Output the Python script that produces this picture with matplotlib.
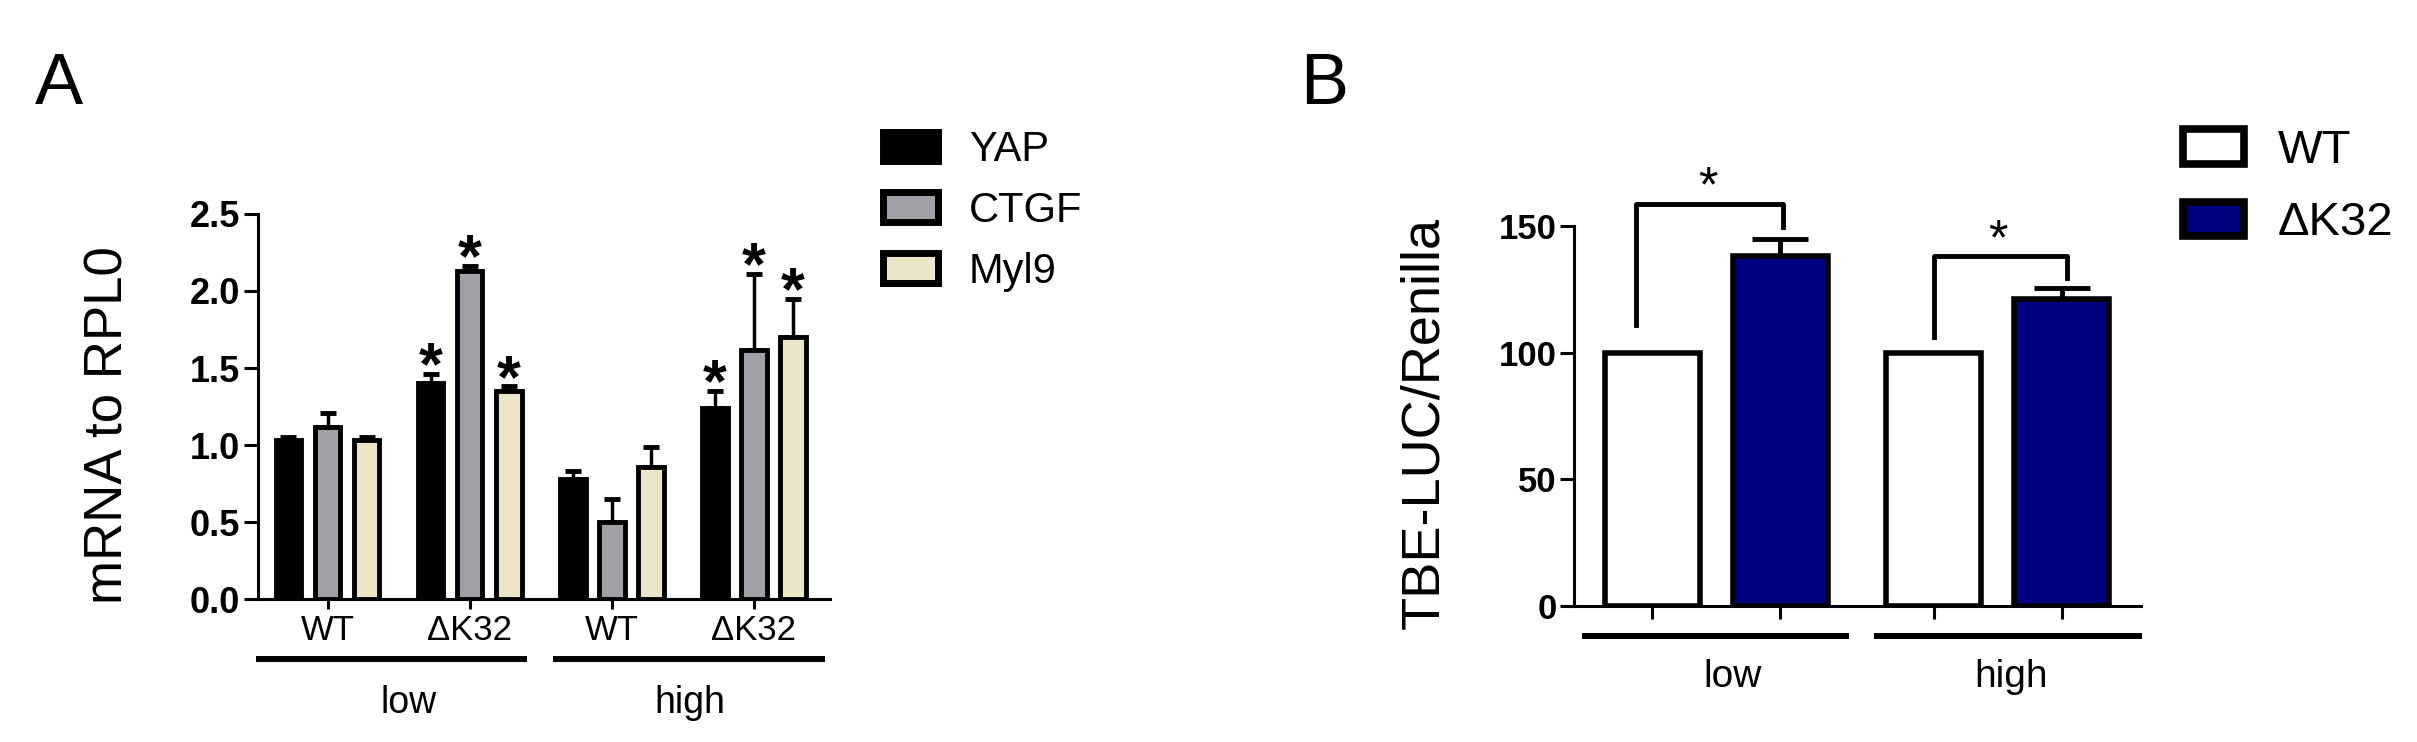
import numpy as np
import matplotlib.pyplot as plt
from matplotlib.patches import Patch

plt.rcParams['font.family'] = ['Liberation Sans', 'DejaVu Sans']

# panel A: mRNA relative to RPL0
genes = ['YAP', 'CTGF', 'Myl9']
groups_a = ['WT', 'ΔK32', 'WT', 'ΔK32']
levels = ['low', 'high']
yap = [1.03, 1.40, 0.78, 1.24]
yap_err = [0.02, 0.06, 0.05, 0.11]
ctgf = [1.12, 2.13, 0.50, 1.62]
ctgf_err = [0.09, 0.03, 0.15, 0.49]
myl9 = [1.03, 1.35, 0.86, 1.70]
myl9_err = [0.02, 0.03, 0.13, 0.25]
sig_a = [[0, 1, 0, 1], [0, 1, 0, 1], [0, 1, 0, 1]]

# panel B: TBE-LUC reporter
genotypes = ['WT', 'ΔK32']
tbe_wt = [100, 100]
tbe_k32 = [138, 121]
tbe_k32_err = [7, 4.5]

fig = plt.figure(figsize=(24.17, 7.42), dpi=100)

# ---------------- panel A ----------------
axA = fig.add_axes([0.1067, 0.1927, 0.2367, 0.5189])
x = np.arange(len(groups_a))
off = 0.275
w = 0.18
colors = ['black', '#a0a0a6', '#ece6c8']
series = [(yap, yap_err), (ctgf, ctgf_err), (myl9, myl9_err)]
for i, (vals, errs) in enumerate(series):
    xs = x + (i - 1) * off
    axA.bar(xs, vals, w, color=colors[i], edgecolor='black', linewidth=3.5,
            label=genes[i], zorder=2)
    axA.errorbar(xs, vals, yerr=[np.zeros(len(vals)), errs], fmt='none',
                 ecolor='black', elinewidth=2.5, capsize=5.5, capthick=3.5, zorder=1)
    for j in range(len(vals)):
        if sig_a[i][j]:
            axA.annotate('*', (xs[j], vals[j] + errs[j] + 0.15), xytext=(0, -24),
                         textcoords='offset points', ha='center', va='baseline',
                         fontsize=44, fontweight='bold', annotation_clip=False)

axA.set_xlim(-0.49, 3.535)
axA.set_ylim(0, 2.5)
axA.set_yticks(np.arange(0, 2.51, 0.5))
axA.set_yticklabels(['%.1f' % v for v in np.arange(0, 2.51, 0.5)],
                    fontsize=26, fontweight='bold')
axA.set_xticks(x)
axA.set_xticklabels(groups_a, fontsize=25)
axA.tick_params(axis='y', length=10, width=2.2, pad=3)
axA.tick_params(axis='x', length=7, width=2.2, pad=4)
for s in ['top', 'right']:
    axA.spines[s].set_visible(False)
for s in ['left', 'bottom']:
    axA.spines[s].set_linewidth(2.2)

tA = axA.get_xaxis_transform()
axA.plot([-0.5, 1.40], [-0.156, -0.156], transform=tA, color='black', lw=4.3,
         clip_on=False, solid_capstyle='butt')
axA.plot([1.585, 3.5], [-0.156, -0.156], transform=tA, color='black', lw=4.3,
         clip_on=False, solid_capstyle='butt')
axA.text(0.57, -0.27, levels[0], transform=tA, ha='center', va='center', fontsize=27)
axA.text(2.55, -0.27, levels[1], transform=tA, ha='center', va='center', fontsize=27)

fig.text(0.0447, 0.4272, 'mRNA to RPL0', rotation=90, ha='center', va='center', fontsize=38)
fig.text(0.0145, 0.8598, 'A', ha='left', va='baseline', fontsize=52)

handlesA = [Patch(facecolor=c, edgecolor='black', linewidth=5) for c in colors]
fig.legend(handlesA, genes, loc='upper left', bbox_to_anchor=(0.3653, 0.8248),
           frameon=False, fontsize=30, handlelength=1.32, handleheight=0.72,
           handletextpad=0.74, labelspacing=0.5, borderpad=0, borderaxespad=0)

# ---------------- panel B ----------------
axB = fig.add_axes([0.6514, 0.1833, 0.2344, 0.5121])
pos = np.array([0, 2.2])
bw = 0.74
axB.bar(pos, tbe_wt, bw, color='white', edgecolor='black', linewidth=4, zorder=2)
axB.bar(pos + 1, tbe_k32, bw, color='#000080', edgecolor='black', linewidth=4, zorder=2)
axB.errorbar(pos + 1, tbe_k32, yerr=[np.zeros(2), tbe_k32_err], fmt='none',
             ecolor='black', elinewidth=3.5, capsize=20, capthick=3.5, zorder=1)

# significance brackets
axB.plot([-0.13, -0.13, 1.02, 1.02], [111, 158.5, 158.5, 149.6], color='black',
         lw=3.5, clip_on=False)
axB.plot([2.2, 2.2, 3.24, 3.24], [106, 138, 138, 129.5], color='black',
         lw=3.5, clip_on=False)
axB.annotate('*', (0.43, 170.5), xytext=(0, -20), textcoords='offset points',
             ha='center', va='baseline', fontsize=36, annotation_clip=False)
axB.annotate('*', (2.70, 149.6), xytext=(0, -20), textcoords='offset points',
             ha='center', va='baseline', fontsize=36, annotation_clip=False)

axB.set_xlim(-0.61, 3.82)
axB.set_ylim(0, 150)
axB.set_yticks([0, 50, 100, 150])
axB.set_yticklabels(['0', '50', '100', '150'], fontsize=25, fontweight='bold')
axB.set_xticks([0, 1, 2.2, 3.2])
axB.set_xticklabels([])
axB.tick_params(axis='y', length=10, width=2.2, pad=3)
axB.tick_params(axis='x', length=9, width=2.2)
for s in ['top', 'right']:
    axB.spines[s].set_visible(False)
for s in ['left', 'bottom']:
    axB.spines[s].set_linewidth(2.2)

tB = axB.get_xaxis_transform()
axB.plot([-0.55, 1.54], [-0.078, -0.078], transform=tB, color='black', lw=4.3,
         clip_on=False, solid_capstyle='butt')
axB.plot([1.73, 3.83], [-0.078, -0.078], transform=tB, color='black', lw=4.3,
         clip_on=False, solid_capstyle='butt')
axB.text(0.625, -0.187, levels[0], transform=tB, ha='center', va='center', fontsize=28)
axB.text(2.80, -0.187, levels[1], transform=tB, ha='center', va='center', fontsize=28)

fig.text(0.5892, 0.4299, 'TBE-LUC/Renilla', rotation=90, ha='center', va='center', fontsize=39)
fig.text(0.538, 0.8598, 'B', ha='left', va='baseline', fontsize=52)

handlesB = [Patch(facecolor='white', edgecolor='black', linewidth=5.5),
            Patch(facecolor='#000080', edgecolor='black', linewidth=5.5)]
fig.legend(handlesB, genotypes, loc='upper left', bbox_to_anchor=(0.9032, 0.8261),
           frameon=False, fontsize=34, handlelength=1.3, handleheight=0.75,
           handletextpad=0.7, labelspacing=0.6, borderpad=0, borderaxespad=0)

fig.savefig('out.png', dpi=100)
